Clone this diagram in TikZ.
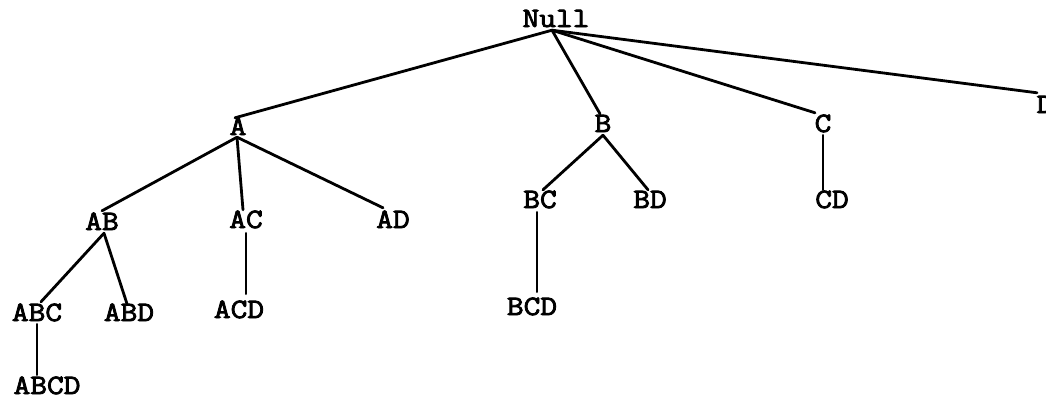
\documentclass[tikz,border=0pt]{standalone}
\usepackage{fontspec}
\setmonofont[FakeStretch=1.16,FakeBold=3]{Latin Modern Mono}
\usetikzlibrary{calc}
\tikzset{
  lbl/.style={anchor=base, inner sep=0pt, text height=16pt, text depth=0pt,
    font=\ttfamily\fontsize{28}{28}\selectfont},
  edge/.style={line width=2.8pt, line cap=round}
}
\begin{document}
\begin{tikzpicture}[x=1pt,y=-1pt]
\useasboundingbox (0,0) rectangle (1046,400);
% nodes (center x, baseline y in pixels)
\node[lbl] (null) at (556,27) {Null};
\node[lbl] (a) at (238,135) {A};
\node[lbl] (b) at (603,132) {B};
\node[lbl] (c) at (823,132) {C};
\node[lbl] (d) at (1045,113) {D};
\node[lbl] (ab) at (102,230) {AB};
\node[lbl] (ac) at (246,228) {AC};
\node[lbl] (ad) at (393,228) {AD};
\node[lbl] (bc) at (540,208) {BC};
\node[lbl] (bd) at (650,208) {BD};
\node[lbl] (cd) at (832,208) {CD};
\node[lbl] (abc) at (37,321) {ABC};
\node[lbl] (abd) at (129,321) {ABD};
\node[lbl] (acd) at (239,318) {ACD};
\node[lbl] (bcd) at (532,315) {BCD};
\node[lbl] (abcd) at (47,394) {ABCD};
% connectors
\coordinate (n0) at ($(null.south)+(-4,3)$);
\draw[edge] (n0) -- ($(a.north)+(-3,-1)$);
\draw[edge] (n0) -- ($(b.north)+(-3,-2)$);
\draw[edge] (n0) -- ($(c.north)+(-8,-3)$);
\draw[edge] (n0) -- ($(d.north)+(-8,-4)$);
\coordinate (a0) at ($(a.south)+(-1,2)$);
\draw[edge] (a0) -- ($(ab.north)+(0,-3)$);
\draw[edge] (a0) -- ($(ac.north)+(-3,-2)$);
\draw[edge] (a0) -- ($(ad.north)+(-10,-4)$);
\coordinate (ab0) at ($(ab.south)+(2,3)$);
\draw[edge] (ab0) -- ($(abc.north)+(4,-3)$);
\draw[edge] (ab0) -- ($(abd.north)+(-2,-1)$);
\draw[edge] ($(abc.south)+(0,3)$) -- ($(abcd.north)+(-10,-3)$);
\draw[edge] ($(ac.south)+(0,5)$) -- ($(acd.north)+(7,-8)$);
\coordinate (b0) at ($(b.south)+(0,3)$);
\draw[edge] (b0) -- ($(bc.north)+(3,-2)$);
\draw[edge] (b0) -- ($(bd.north)+(-2,-2)$);
\draw[edge] ($(bc.south)+(-3,4)$) -- ($(bcd.north)+(5,-7)$);
\draw[edge] ($(c.south)+(0,3)$) -- ($(cd.north)+(-9,-2)$);
\end{tikzpicture}
\end{document}
